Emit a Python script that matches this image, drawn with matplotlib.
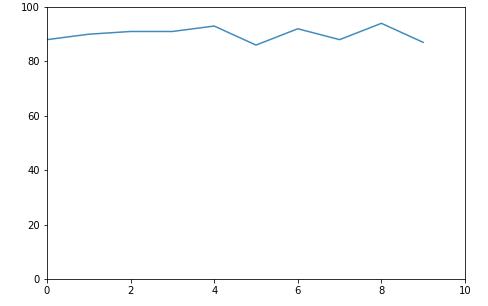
import matplotlib
matplotlib.use("Agg")
import matplotlib.pyplot as plt

x_values = [0, 1, 2, 3, 4, 5, 6, 7, 8, 9]
y_values = [88, 90, 91, 91, 93, 86, 92, 88, 94, 87]

fig = plt.figure(figsize=(488/72, 306/72), dpi=72)
ax = fig.add_axes([47/488, 27/306, 418/488, 272/306])
ax.plot(x_values, y_values, color="#1f77b4", alpha=0.85, linewidth=1.5)
ax.set_xlim(0, 10)
ax.set_ylim(0, 100)
ax.set_xticks([0, 2, 4, 6, 8, 10])
ax.set_yticks([0, 20, 40, 60, 80, 100])
fig.savefig("out.png", dpi=72)
